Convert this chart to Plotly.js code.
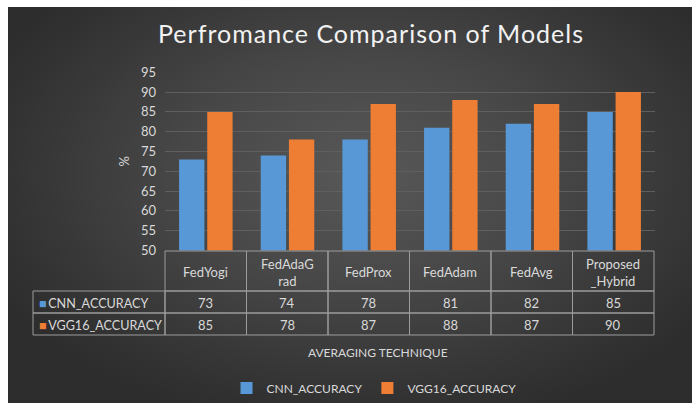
<!DOCTYPE html>
<html>
<head>
<meta charset="utf-8">
<script src="https://cdn.plot.ly/plotly-3.0.1.min.js"></script>
<style>
  html, body { margin:0; padding:0; background:#ffffff; width:699px; height:407px; overflow:hidden; }
  #bg { position:absolute; left:8px; top:7px; width:684px; height:396px;
        background: radial-gradient(ellipse 60% 65% at 52% 42%, #585858 0%, #474747 45%, #363636 80%, #2d2d2d 100%); }
  #chart { position:absolute; left:0; top:0; width:699px; height:407px; }
  #chart .gtitle { letter-spacing: 1px; }
</style>
</head>
<body>
<div id="bg"></div>
<div id="chart"></div>
<script>
// ---- data ----
const categories = ['FedYogi', 'FedAdaGrad', 'FedProx', 'FedAdam', 'FedAvg', 'Proposed_Hybrid'];
const tableHeaderLabels = ['FedYogi', 'FedAdaG<br>rad', 'FedProx', 'FedAdam', 'FedAvg', 'Proposed<br>_Hybrid'];
const cnnAccuracy = [73, 74, 78, 81, 82, 85];
const vgg16Accuracy = [85, 78, 87, 88, 87, 90];
const seriesNames = ['CNN_ACCURACY', 'VGG16_ACCURACY'];
const yTickValues = [50, 55, 60, 65, 70, 75, 80, 85, 90, 95];
const titleText = 'Perfromance Comparison of Models';
const xAxisTitle = 'AVERAGING TECHNIQUE';
const yAxisTitle = '%';

// ---- styles / layout geometry ----
const W = 699, H = 407;
const blue = '#5898d6';
const orange = '#ee7e34';
const textColor = '#d9d9d9';
const lineCol = '#9c9c9c';
const fontFam = 'Lato, "Open Sans", sans-serif';
const px = v => v / W;
const py = v => 1 - v / H;

const plotLeft = 165, plotRight = 655, plotTop = 72.3, plotBottom = 250.5;
const tableLeft = 33, tableRight = 654;
const rowEdges = [251, 291, 313, 335];   // header top, header bottom, row1 bottom, row2 bottom

const seriesValues = [cnnAccuracy, vgg16Accuracy];
const seriesColors = [blue, orange];

const traces = seriesNames.map((name, i) => ({
  type: 'bar',
  name: name,
  x: categories,
  y: seriesValues[i],
  marker: { color: seriesColors[i], line: { width: 0 } },
  hoverinfo: 'x+y+name'
}));

// ---- data table (built from the arrays) ----
const shapes = [];
const annotations = [];
const colW = (tableRight - plotLeft) / categories.length;
const colEdge = k => plotLeft + k * colW;
const cellFont = { family: fontFam, size: 13, color: textColor };

function cellRect(x0, x1, y0, y1) {
  shapes.push({ type: 'rect', xref: 'paper', yref: 'paper',
    x0: px(x0), x1: px(x1), y0: py(y1), y1: py(y0),
    line: { color: lineCol, width: 1 }, fillcolor: 'rgba(0,0,0,0)', layer: 'above' });
}
function cellText(text, x, y, anchor, font) {
  annotations.push({ text: text, xref: 'paper', yref: 'paper', x: px(x), y: py(y),
    xanchor: anchor || 'center', yanchor: 'middle', showarrow: false, font: font || cellFont });
}

// header row
tableHeaderLabels.forEach((lab, k) => {
  cellRect(colEdge(k), colEdge(k + 1), rowEdges[0], rowEdges[1]);
  cellText(lab, (colEdge(k) + colEdge(k + 1)) / 2, (rowEdges[0] + rowEdges[1]) / 2 + 1);
});
// body rows
seriesNames.forEach((name, i) => {
  const y0 = rowEdges[i + 1], y1 = rowEdges[i + 2];
  const yc = (y0 + y1) / 2 + 1;
  cellRect(tableLeft, plotLeft, y0, y1);
  cellText('<span style="color:' + seriesColors[i] + '">■</span>\u2009' + name, tableLeft + 4, yc, 'left',
    { family: fontFam, size: 12.6, color: textColor });
  seriesValues[i].forEach((v, k) => {
    cellRect(colEdge(k), colEdge(k + 1), y0, y1);
    cellText(String(v), (colEdge(k) + colEdge(k + 1)) / 2, yc);
  });
});

// x axis title
annotations.push({
  text: xAxisTitle, xref: 'paper', yref: 'paper',
  x: px(378), y: py(352), xanchor: 'center', yanchor: 'middle',
  showarrow: false, font: { family: fontFam, size: 12, color: textColor }
});

const layout = {
  width: W, height: H,
  margin: { l: 0, r: 0, t: 0, b: 0 },
  paper_bgcolor: 'rgba(0,0,0,0)',
  plot_bgcolor: 'rgba(0,0,0,0)',
  showlegend: true,
  barmode: 'group',
  bargap: 0.31,
  bargroupgap: 0.1,
  title: {
    text: titleText,
    x: px(371), xanchor: 'center',
    y: py(34), yanchor: 'middle',
    xref: 'paper', yref: 'paper',
    font: { family: fontFam, size: 25, color: '#f2f2f2' }
  },
  xaxis: {
    domain: [px(plotLeft), px(plotRight)],
    showticklabels: false,
    showgrid: false,
    zeroline: false,
    showline: false,
    ticks: ''
  },
  yaxis: {
    domain: [py(plotBottom), py(plotTop)],
    range: [50, 95],
    tickvals: yTickValues,
    ticktext: yTickValues.map(String),
    showgrid: true,
    gridcolor: '#5f5f5f',
    gridwidth: 1,
    zeroline: false,
    showline: false,
    ticks: '',
    ticklabelstandoff: 8,
    tickfont: { family: fontFam, size: 13, color: textColor },
    title: { text: yAxisTitle, standoff: 8, font: { family: fontFam, size: 13, color: textColor } }
  },
  legend: {
    orientation: 'h',
    x: px(374), xanchor: 'center',
    y: py(388), yanchor: 'middle',
    font: { family: fontFam, size: 12, color: textColor },
    bgcolor: 'rgba(0,0,0,0)',
    itemwidth: 30,
    tracegroupgap: 0
  },
  shapes: shapes,
  annotations: annotations
};

Plotly.newPlot('chart', traces, layout, { displayModeBar: false, staticPlot: true });
</script>
</body>
</html>
